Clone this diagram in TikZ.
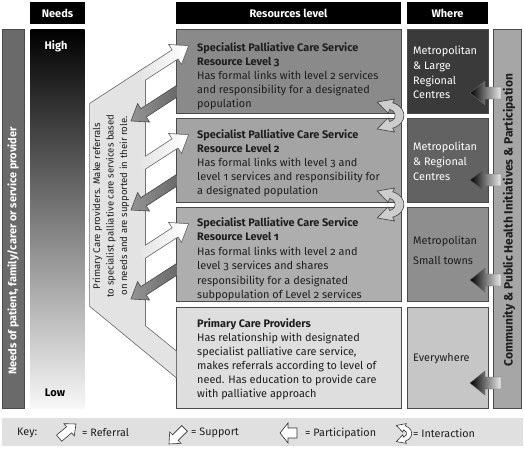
\documentclass[tikz,border=0pt]{standalone}
\usepackage{fontspec}
\setmainfont{Fira Sans}[Numbers=OldStyle]
\definecolor{trunkc}{HTML}{E3E3E3}
\definecolor{lthree}{HTML}{8A8A8A}
\definecolor{ltwo}{HTML}{A4A4A4}
\definecolor{lone}{HTML}{AEAEAE}
\definecolor{lprim}{HTML}{DEDEDE}
\definecolor{wone}{HTML}{3A3A3A}
\definecolor{wtwo}{HTML}{626262}
\definecolor{wthree}{HTML}{8E8E8E}
\definecolor{wfour}{HTML}{C6C6C6}
\definecolor{lbar}{HTML}{6A6A6A}
\definecolor{rbar}{HTML}{A6A6A6}
\definecolor{edgec}{HTML}{4A4A4A}
\definecolor{keyc}{HTML}{E0E0E0}
\definecolor{supl}{HTML}{959595}
\definecolor{supd}{HTML}{656565}
\definecolor{intc}{HTML}{CDCDCD}
\definecolor{txtc}{HTML}{1E1E1E}
\def\RefPoly{(0,0) -- (-15,-11) -- (-15,-5) -- (-57,-5) -- (-57,5) -- (-15,5) -- (-15,11) -- cycle}
\def\ParPoly{(0,0) -- (-15,-12) -- (-15,-6) -- (-31,-6) -- (-31,6) -- (-15,6) -- (-15,12) -- cycle}
\def\IntPoly{(4.62,-12.69) arc[start angle=-70, end angle=70, radius=13.5] -- (5.99,16.45) -- (-7.86,13.50) -- (0.86,2.35) -- (2.22,6.11) arc[start angle=70, end angle=-70, radius=6.5] -- (0.86,-2.35) -- (-7.86,-13.50) -- (5.99,-16.45) -- cycle}
\def\KeyArrow{(0,0) -- (-9,-8) -- (-9,-4) -- (-22,-4) -- (-22,4) -- (-9,4) -- (-9,8) -- cycle}
\begin{document}
\begin{tikzpicture}[x=1pt,y=-1pt,
  hdr/.style={fill=black, text=white, font=\bfseries\fontsize{11}{13}\selectfont, minimum height=22pt, inner sep=0pt},
  rbox/.style={draw=edgec, line width=0.7pt, inner sep=0pt, anchor=north west, minimum width=225pt},
  wbox/.style={draw=edgec, line width=0.7pt, inner sep=0pt, anchor=north west, minimum width=81pt},
  rtext/.style={align=left, inner sep=0pt, anchor=north west, text=txtc, font=\fontsize{10.9}{14}\selectfont},
  wtext/.style={align=left, inner sep=0pt, anchor=north west, font=\fontsize{10.9}{14.7}\selectfont},
  keytext/.style={anchor=west, inner sep=0pt, text=txtc, font=\fontsize{10.8}{12}\selectfont},
  glyph/.style={fill=white, draw=black!80, line width=0.6pt, line join=miter},
  outl/.style={draw=edgec!85, line width=1.5pt, line join=miter}]
\useasboundingbox (0,0) rectangle (524,448);
\fill[white] (0,0) rectangle (524,448);
% headers
\node[hdr, minimum width=55pt] (hneeds) at (57.5,13) {Needs};
\node[hdr, minimum width=225pt] (hres) at (288.5,13) {Resources level};
\node[hdr, minimum width=81pt] (hwhere) at (447.5,13) {Where};
% side bars
\node[draw=edgec, fill=lbar, line width=0.7pt, minimum width=22pt, minimum height=379pt, inner sep=0pt] (lbarn) at (13,218.5) {};
\node[rotate=90, text=white, font=\bfseries\fontsize{11}{12}\selectfont] (ltext) at (13,251) {Needs of patient, family/carer or service provider};
\node[inner sep=0pt, minimum width=54pt, minimum height=379pt, top color=black, middle color=black!62, bottom color=black!3] (gbar) at (57.5,218.5) {};
\node[text=white, font=\bfseries\fontsize{11}{13}\selectfont] (high) at (56,46) {High};
\node[text=black, font=\bfseries\fontsize{11}{13}\selectfont] (low) at (55,393) {Low};
\node[draw=edgec, fill=rbar, line width=0.7pt, minimum width=28pt, minimum height=379pt, inner sep=0pt] (rbarn) at (507,218.5) {};
\node[rotate=90, text=txtc, font=\bfseries\fontsize{12}{13}\selectfont] (rtextn) at (509,220) {Community \& Public Health Initiatives \& Participation};
% resource boxes
\node[rbox, fill=lthree, minimum height=84pt] (l3) at (176,29) {};
\node[rbox, fill=ltwo, minimum height=84pt] (l2) at (176,118) {};
\node[rbox, fill=lone, minimum height=94pt] (l1) at (176,207) {};
\node[rbox, fill=lprim, minimum height=101pt] (lp) at (176,307) {};
% where boxes
\node[wbox, fill=wone, minimum height=84pt] (w1) at (407,29) {};
\node[wbox, fill=wtwo, minimum height=84pt] (w2) at (407,118) {};
\node[wbox, fill=wthree, minimum height=94pt] (w3) at (407,207) {};
\node[wbox, fill=wfour, minimum height=101pt] (w4) at (407,307) {};
% referral trunk and arrows: outline first, then fills
\draw[outl] (90,103.68) -- (145,67.97) -- (145,326) -- (176,351.2) -- (176,377) -- (90,306) -- cycle;
\foreach \dy in {0,89,178} {
  \draw[outl, shift={(188,46+\dy)}, rotate=33] \RefPoly;
}
\fill[trunkc] (90,103.68) -- (145,67.97) -- (145,326) -- (176,351.2) -- (176,377) -- (90,306) -- cycle;
\foreach \dy in {0,89,178} {
  \shade[shift={(188,46+\dy)}, rotate=33, left color=trunkc, right color=white] \RefPoly;
}
% support arrows
\begin{scope}
\clip (0,0) rectangle (176.3,448);
\foreach \dy in {0,89,178} {
  \shadedraw[shift={(131,121+\dy)}, rotate=213, draw=edgec, line width=0.6pt, left color=supl, right color=supd] \RefPoly;
}
\end{scope}
% trunk text
\node[rotate=90, align=center, text=txtc, font=\fontsize{9.6}{13.5}\selectfont] (ptext) at (111,206) {Primary Care providers. Make referrals\\to specialist palliative care services based\\on needs and are supported in their role.};
% resource texts
\node[rtext] (t3) at (197,42) {\textbf{Specialist Palliative Care Service}\\\textbf{Resource Level 3}\\Has formal links with level 2 services\\and responsibility for a designated\\population};
\node[rtext] (t2) at (197,129) {\textbf{Specialist Palliative Care Service}\\\textbf{Resource Level 2}\\Has formal links with level 3 and\\level 1 services and responsibility for\\a designated population};
\node[rtext, font=\fontsize{10.9}{14.5}\selectfont] (t1) at (197,217) {\textbf{Specialist Palliative Care Service}\\\textbf{Resource Level 1}\\Has formal links with level 2 and\\level 3 services and shares\\responsibility for a designated\\subpopulation of Level 2 services};
\node[rtext] (tp) at (197,318) {\textbf{Primary Care Providers}\\Has relationship with designated\\specialist palliative care service,\\makes referrals according to level of\\need. Has education to provide care\\with palliative approach};
% where texts
\node[wtext, text=white] (tw1) at (413,46) {Metropolitan\\\& Large\\Regional\\Centres};
\node[wtext, text=white] (tw2) at (413,142) {Metropolitan\\\& Regional\\Centres};
\node[wtext, text=txtc] (tw3) at (413,236) {Metropolitan\\[5pt]Small towns};
\node[wtext, text=txtc] (tw4) at (413,353) {Everywhere};
% interaction symbols
\filldraw[fill=intc, draw=black!75, line width=0.6pt, shift={(387,115.5)}, xscale=1.25] \IntPoly;
\filldraw[fill=intc, draw=black!75, line width=0.6pt, shift={(387,204.5)}, xscale=1.25] \IntPoly;
% participation arrows
\foreach \py in {93,180,280,383} {
  \shadedraw[shift={(470,\py)}, rotate=180, draw=black!60, line width=0.4pt, left color=black, right color=white!92!black] \ParPoly;
}
% key
\node[fill=keyc, minimum width=521pt, minimum height=28pt, inner sep=0pt] (keybar) at (262,432) {};
\node[keytext] (kkey) at (17,433) {Key:};
\filldraw[glyph, shift={(76,424)}, rotate=40] \KeyArrow;
\node[keytext] (kref) at (82,433) {= Referral};
\filldraw[glyph, shift={(169,444)}, rotate=225] \KeyArrow;
\node[keytext] (ksup) at (191,433) {= Support};
\filldraw[glyph, shift={(280,433)}, rotate=180] (0,0) -- (-8,-10) -- (-8,-5) -- (-17,-5) -- (-17,5) -- (-8,5) -- (-8,10) -- cycle;
\node[keytext] (kpar) at (305,433) {= Participation};
\filldraw[glyph, fill=white, shift={(402,433.5)}, xscale=0.72, yscale=0.6] \IntPoly;
\node[keytext] (kint) at (413,433) {= Interaction};
\end{tikzpicture}
\end{document}
